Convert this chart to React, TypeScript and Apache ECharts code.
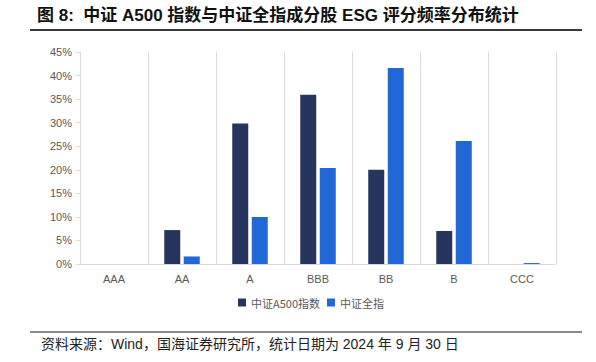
import React, { useEffect, useRef } from "react";
import * as echarts from "echarts";

const categories = ["AAA", "AA", "A", "BBB", "BB", "B", "CCC"];
const seriesNames = ["中证A500指数", "中证全指"];
const a500Values = [0, 7.2, 29.8, 35.9, 20.0, 7.0, 0];
const allValues = [0, 1.6, 10.0, 20.4, 41.6, 26.1, 0.2];
const titleText = "图 8:  中证 A500 指数与中证全指成分股 ESG 评分频率分布统计";
const footerText = "资料来源：Wind，国海证券研究所，统计日期为 2024 年 9 月 30 日";

export default function App() {
  const ref = useRef<HTMLDivElement>(null);
  useEffect(() => {
    if (!ref.current) return;
    const chart = echarts.init(ref.current, null, { renderer: "svg" });
    const font = "'Liberation Sans', Arial, 'Noto Sans CJK SC', sans-serif";
    chart.setOption({
      animation: false,
      backgroundColor: "#ffffff",
      textStyle: { fontFamily: font },
      graphic: [
        {
          type: "text",
          left: 37,
          top: 7,
          style: {
            text: titleText,
            font: `bold 17px ${font}`,
            fill: "#111111",
          },
        },
        {
          type: "line",
          shape: { x1: 30, y1: 30, x2: 582, y2: 30 },
          style: { stroke: "#3a3a3a", lineWidth: 2 },
        },
        {
          type: "line",
          shape: { x1: 30, y1: 332, x2: 582, y2: 332 },
          style: { stroke: "#8a8a8a", lineWidth: 2 },
        },
        {
          type: "text",
          left: 41,
          top: 337,
          style: {
            text: footerText,
            font: `14px ${font}`,
            fill: "#222222",
          },
        },
      ],
      legend: {
        data: seriesNames,
        bottom: 49,
        left: 233,
        itemWidth: 8,
        itemHeight: 8,
        itemGap: 7,
        icon: "rect",
        textStyle: { fontSize: 11, color: "#595959", fontFamily: "'Noto Sans CJK SC', sans-serif" },
      },
      grid: { left: 80, right: 40, top: 52, bottom: 98 },
      xAxis: {
        type: "category",
        data: categories,
        axisLine: { lineStyle: { color: "#d9d9d9" } },
        axisTick: { show: false },
        axisLabel: { color: "#595959", fontSize: 11, margin: 9 },
        splitLine: { show: true, lineStyle: { color: "#d9d9d9" } },
      },
      yAxis: {
        type: "value",
        min: 0,
        max: 45,
        interval: 5,
        axisLine: { show: true, lineStyle: { color: "#d9d9d9" } },
        axisTick: { show: true, length: 4, lineStyle: { color: "#d9d9d9" } },
        axisLabel: { color: "#595959", fontSize: 11, formatter: "{value}%", margin: 8 },
        splitLine: { show: false },
      },
      series: [
        {
          name: seriesNames[0],
          type: "bar",
          data: a500Values,
          barWidth: 16,
          barGap: "22%",
          itemStyle: { color: "#26355e" },
        },
        {
          name: seriesNames[1],
          type: "bar",
          data: allValues,
          barWidth: 16,
          itemStyle: { color: "#2167d5" },
        },
      ],
    });
    return () => chart.dispose();
  }, []);
  return <div ref={ref} style={{ width: 596, height: 362, position: "absolute", left: 0, top: 0 }} />;
}
